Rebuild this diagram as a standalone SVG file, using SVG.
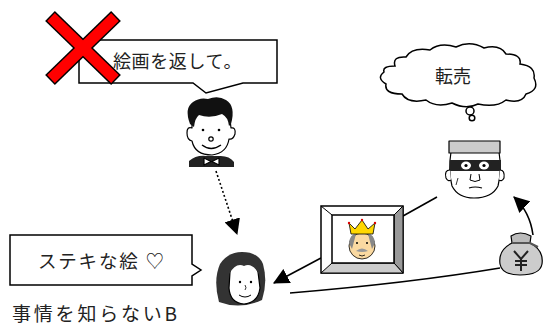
<svg xmlns="http://www.w3.org/2000/svg" width="544" height="327" viewBox="0 0 544 327">
  <style>
    .callout { fill: #fff; stroke: #000; stroke-width: 1.5; }
    .jp { font-family: "Noto Sans CJK JP", "Noto Sans", sans-serif; fill: #222; }
    .ol { stroke: #000; stroke-width: 1.2; stroke-linejoin: round; }
    .conn { fill: none; stroke: #000; stroke-width: 1.6; }
  </style>
  <defs>
    <marker id="arrowBig" viewBox="0 0 14 14" refX="13" refY="7" markerWidth="16" markerHeight="16" markerUnits="userSpaceOnUse" orient="auto">
      <path d="M0,0 L14,7 L0,14 Z" fill="#000"/>
    </marker>
  </defs>

  <rect width="544" height="327" fill="#fff"/>

  <!-- connectors -->
  <g id="connectors">
    <path class="conn" d="M216,171 L237,234" stroke-width="2.6" stroke-dasharray="2 2.2" marker-end="url(#arrowBig)"/>
    <path class="conn" d="M321,258 L274,283" marker-end="url(#arrowBig)"/>
    <path class="conn" d="M437,197 L403,216"/>
    <path class="conn" d="M290,293 Q410,283 500,268"/>
    <path class="conn" d="M533,235 Q530,212 514,197" marker-end="url(#arrowBig)"/>
  </g>

  <!-- speech bubble: return the painting -->
  <g id="callout-return">
    <path class="callout" d="M79,40 H277 V83 H243 L206,93 L193,83 H79 Z"/>
    <text class="jp" x="113" y="68" font-size="18" letter-spacing="0.6">絵画を返して。</text>
  </g>

  <!-- red cross over the request -->
  <g id="cross">
    <line x1="50" y1="16" x2="116" y2="80" stroke="#000" stroke-width="14"/>
    <line x1="116" y1="16" x2="50" y2="80" stroke="#000" stroke-width="14"/>
    <line x1="51" y1="17" x2="115" y2="79" stroke="#f00" stroke-width="11"/>
    <line x1="115" y1="17" x2="51" y2="79" stroke="#f00" stroke-width="11"/>
  </g>

  <!-- owner: man in a bow tie -->
  <g id="owner">
    <path d="M189,161 Q196,155 206,156 L218,156 Q229,155 234,162 L234,167 L189,167 Z" fill="#222"/>
    <path class="ol" d="M192,116 Q190,106 200,103 Q211,98 222,102 Q232,106 230,120 L231,128 Q236,127 235,134 Q233,140 229,139 Q227,153 212,155 Q195,155 192,141 Q187,140 187,133 Q187,126 192,128 Z" fill="#fff"/>
    <path d="M190,124 Q184,108 193,102 Q200,97 208,99 Q218,95 226,100 Q236,106 231,124 L229,126 Q228,117 222,114 Q210,119 199,115 Q195,118 194,127 Z" fill="#111"/>
    <circle cx="203" cy="130" r="1.3" fill="#000"/>
    <circle cx="219" cy="130" r="1.3" fill="#000"/>
    <circle cx="211" cy="139" r="2.2" fill="none" stroke="#000" stroke-width="1.2"/>
    <path d="M202,145 Q211,152 221,145" fill="none" stroke="#000" stroke-width="1.4"/>
    <path class="ol" d="M204,158 L211,161.5 L204,165 Z M219,158 L212,161.5 L219,165 Z" fill="#fff"/>
  </g>

  <!-- thought cloud -->
  <g id="cloud">
    <path class="callout" d="M395,66 Q392,56 406,57 Q412,47 430,50 Q440,42 456,47 Q470,40 484,48 Q500,44 506,54 Q522,54 520,64 Q536,66 534,78 Q540,90 526,94 Q522,104 506,100 Q496,108 478,104 Q466,110 452,103 Q436,108 426,100 Q408,104 402,94 Q384,94 386,84 Q376,78 384,72 Q382,66 395,66 Z"/>
    <circle class="callout" cx="470" cy="111" r="4"/>
    <circle class="callout" cx="472" cy="118" r="2.8"/>
    <text class="jp" x="453" y="83" font-size="18" text-anchor="middle">転売</text>
  </g>

  <!-- reseller: masked thief -->
  <g id="thief">
    <path class="ol" d="M451,152 Q448,170 452,186 Q458,198 474,198 Q492,198 498,186 Q502,170 499,152 Z" fill="#fff"/>
    <path class="ol" d="M449,141 L500,141 L500,153 L449,153 Z" fill="#ccc"/>
    <path d="M450,160 L501,160 L501,171 L450,171 Z" fill="#222"/>
    <ellipse cx="466" cy="165.5" rx="5" ry="4" fill="#fff"/>
    <ellipse cx="484" cy="165.5" rx="5" ry="4" fill="#fff"/>
    <circle cx="466" cy="165.5" r="1.6" fill="#000"/>
    <circle cx="484" cy="165.5" r="1.6" fill="#000"/>
    <path class="ol" d="M450,170 Q444,170 446,178 Q448,182 451,180" fill="#fff"/>
    <path class="ol" d="M500,170 Q505,170 504,178 Q502,182 499,180" fill="#fff"/>
    <path d="M471,174 L470,180 Q475,183 480,180 L479,174" fill="none" stroke="#000" stroke-width="1"/>
    <path d="M469,188 Q475,186 482,188" fill="none" stroke="#000" stroke-width="1.2"/>
    <path d="M458,178 L456,185" fill="none" stroke="#000" stroke-width="0.8"/>
  </g>

  <!-- painting of the king -->
  <g id="painting">
    <rect x="321" y="206" width="82" height="67" fill="#fff" stroke="#000" stroke-width="1.5"/>
    <path d="M394,215 L403,206 L403,273 L394,263 Z" fill="#999" stroke="#000" stroke-width="1"/>
    <path d="M332,263 L394,263 L403,273 L321,273 Z" fill="#ccc" stroke="#000" stroke-width="1"/>
    <path d="M321,206 L332,215 M403,206 L394,215" stroke="#000" stroke-width="1"/>
    <rect x="332" y="215" width="62" height="48" fill="#fff" stroke="#000" stroke-width="1.5"/>
    <circle cx="362" cy="246" r="13" fill="#fad9a1" stroke="#000" stroke-width="0.8"/>
    <path d="M349,243 Q350,234 356,234 L352,249 Z M375,243 Q374,234 368,234 L372,249 Z" fill="#888"/>
    <path d="M349,223 L355,229 L362,220 L368,229 L375,223 L373,234 L351,234 Z" fill="#ffd700" stroke="#000" stroke-width="0.8"/>
    <circle cx="349" cy="223" r="1.2" fill="#d00"/>
    <circle cx="362" cy="220" r="1.2" fill="#d00"/>
    <circle cx="375" cy="223" r="1.2" fill="#d00"/>
    <circle cx="357" cy="243" r="1" fill="#000"/>
    <circle cx="367" cy="243" r="1" fill="#000"/>
    <path d="M356,251 Q362,246 368,251 Q362,253 356,251 Z" fill="#999"/>
    <path d="M359,255 Q362,257 365,255" fill="none" stroke="#000" stroke-width="0.8"/>
  </g>

  <!-- money bag -->
  <g id="moneybag">
    <path class="ol" d="M511,236 Q520,230 531,236 L530,243 L512,243 Z" fill="#bbb"/>
    <path class="ol" d="M512,243 Q498,250 500,264 Q502,275 520,275 Q540,275 542,264 Q544,250 530,243 Z" fill="#ccc"/>
    <path d="M512,243 L530,243 L538,247" fill="none" stroke="#555" stroke-width="2"/>
    <path d="M514,251 L521,259 L528,251 M521,259 L521,271 M515,261 L527,261 M515,265 L527,265" fill="none" stroke="#222" stroke-width="2"/>
  </g>

  <!-- unaware buyer: girl -->
  <g id="buyer">
    <path d="M219,302 Q213,280 220,264 Q228,252 242,252 Q258,252 263,264 Q268,282 262,300 Q240,310 219,302 Z" fill="#333"/>
    <path class="ol" d="M230,272 Q232,262 244,264 Q256,262 258,272 L260,288 Q258,303 244,304 Q230,303 229,288 Z" fill="#fff"/>
    <path d="M229,274 Q236,262 244,266 Q252,262 259,274 L259,266 Q250,258 244,260 Q236,258 229,266 Z" fill="#333"/>
    <circle cx="240" cy="282" r="1.2" fill="#000"/>
    <circle cx="251" cy="282" r="1.2" fill="#000"/>
    <path d="M245,285 Q247,288 245,290" fill="none" stroke="#000" stroke-width="0.8"/>
    <path d="M239,295 Q245,299 251,295" fill="none" stroke="#000" stroke-width="1"/>
  </g>

  <!-- speech bubble: lovely painting -->
  <g id="callout-lovely">
    <path class="callout" d="M10,235 H192 V264 L201,270 L192,276 V285 H10 Z"/>
    <text class="jp" x="38" y="268" font-size="18.5" letter-spacing="1.8">ステキな絵 ♡</text>
  </g>

  <!-- caption -->
  <g id="caption">
    <text class="jp" x="12" y="321" font-size="19" letter-spacing="2.8">事情を知らないB</text>
  </g>
</svg>
